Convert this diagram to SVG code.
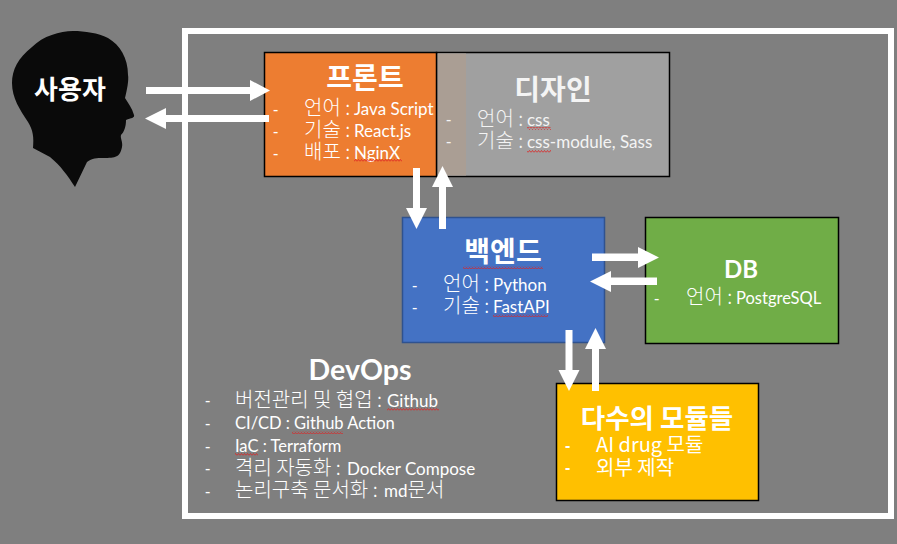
<svg xmlns="http://www.w3.org/2000/svg" width="897" height="544" viewBox="0 0 897 544">
<style>
text{font-family:"Lato","Noto Sans CJK KR","Noto Sans",sans-serif;fill:#fff;font-size:17px}
.ko{font-family:"Noto Sans CJK KR","Noto Sans",sans-serif;font-size:20px;font-weight:300}
.t{font-family:"Noto Sans CJK KR",sans-serif;font-weight:700;text-anchor:middle;font-size:28px}
.l{font-family:"Lato",sans-serif;font-weight:700;text-anchor:middle;font-size:28px}
.d{font-family:"Liberation Sans",sans-serif;font-size:16px}
.box{stroke:#000;stroke-width:1.5}
.arrow{fill:#fff}
.sq{fill:url(#wave)}
.soft text{fill:#f4f4f4}
</style>
<defs>
<pattern id="wave" width="3" height="3" patternUnits="userSpaceOnUse">
<path d="M0 2.500L1.500 .5L3 2.500" fill="none" stroke="#d22" stroke-width=".8"/>
</pattern>
</defs>
<rect width="897" height="544" fill="#7f7f7f"/>
<rect id="frame" x="185" y="31" width="706" height="485" fill="none" stroke="#fff" stroke-width="6"/>

<g id="user">
<path d="M73 31C60 31 43 36 32 47C18 58 12 70 12 83C12 98 20 110 28 122C33 130 34 137 33 148L50 157C60 165 68 176 75 187L87 162C92 158 97 158 103 158C116 158 120 157 122 147C123 142 120 138 121 135C124 132 126 127 126 120C131 118 135 118 134 115C132 108 128 103 125 98C127 90 129 80 128 75C128 58 120 45 108 38C98 33 85 31 73 31Z" fill="#0a0a0a"/>
<text class="t" x="70" y="99" style="font-size:26px">사용자</text>
</g>

<g id="design">
<rect class="box" x="436.500" y="52.500" width="233" height="124" fill="#a0a0a0"/>
<rect x="437.500" y="53.500" width="28.500" height="122" fill="#aa9e94"/>
<g class="soft">
<text class="t" x="553" y="100" style="font-weight:700">디자인</text>
<text class="d" x="446" y="125">-</text>
<text class="d" x="446" y="147">-</text>
<text y="126"><tspan class="ko" x="477">언어 :</tspan><tspan x="527">css</tspan></text>
<text y="148"><tspan class="ko" x="477">기술 :</tspan><tspan x="527">css-module, Sass</tspan></text>
</g>
<rect class="sq" x="527" y="127" width="24" height="3"/>
<rect class="sq" x="527" y="150" width="24" height="3"/>
</g>

<g id="front">
<rect class="box" x="264.500" y="52.500" width="172" height="124" fill="#ed7d31"/>
<text class="t" x="365" y="88">프론트</text>
<text class="d" x="273" y="115">-</text>
<text class="d" x="273" y="137">-</text>
<text class="d" x="273" y="159">-</text>
<text y="115"><tspan class="ko" x="304">언어 :</tspan><tspan x="354">Java Script</tspan></text>
<text y="137"><tspan class="ko" x="304">기술 :</tspan><tspan x="354">React.js</tspan></text>
<text y="159"><tspan class="ko" x="304">배포 :</tspan><tspan x="354">NginX</tspan></text>
<rect class="sq" x="354" y="159" width="48" height="3"/>
</g>

<g id="backend">
<rect x="402.500" y="217.500" width="202" height="125" fill="#4472c4" stroke="#2f528f" stroke-width="1.500"/>
<text class="t" x="503" y="262">백엔드</text>
<rect class="sq" x="463" y="266" width="80" height="3"/>
<text class="d" x="412" y="291">-</text>
<text class="d" x="412" y="313">-</text>
<text y="291"><tspan class="ko" x="443">언어 :</tspan><tspan x="493">Python</tspan></text>
<text y="313"><tspan class="ko" x="443">기술 :</tspan><tspan x="493">FastAPI</tspan></text>
<rect class="sq" x="493" y="314" width="55" height="3"/>
</g>

<g id="db">
<rect class="box" x="645.500" y="217.500" width="193" height="126" fill="#70ad47"/>
<text class="l" x="741" y="278" style="font-size:24px">DB</text>
<text class="d" x="654" y="304">-</text>
<text y="304"><tspan class="ko" x="686">언어 :</tspan><tspan x="736" style="font-size:16.500px">PostgreSQL</tspan></text>
</g>

<g id="modules">
<rect class="box" x="556.500" y="383.500" width="202" height="117" fill="#ffc000"/>
<text class="t" x="657" y="428" style="font-size:26.500px">다수의 모듈들</text>
<text class="d" x="565" y="451" style="font-weight:700">-</text>
<text class="d" x="565" y="473" style="font-weight:700">-</text>
<text y="452" class="ko" x="596" style="font-weight:400">AI drug 모듈</text>
<text y="475" class="ko" x="596" style="font-weight:400">외부 제작</text>
</g>

<g id="devops">
<text class="l" x="360" y="380" style="font-size:28.500px">DevOps</text>
<text class="d" x="205" y="406">-</text>
<text class="d" x="205" y="429">-</text>
<text class="d" x="205" y="452">-</text>
<text class="d" x="205" y="474">-</text>
<text class="d" x="205" y="497">-</text>
<text y="407"><tspan class="ko" x="235">버전관리 및 협업 :</tspan><tspan x="387">Github</tspan></text>
<text y="429" x="235" style="font-size:16.500px">CI/CD : Github Action</text>
<text y="452" x="235" style="font-size:16.500px">IaC : Terraform</text>
<text y="475"><tspan class="ko" x="235">격리 자동화 :</tspan><tspan x="347">Docker Compose</tspan></text>
<text y="497"><tspan class="ko" x="235">논리구축 문서화 :</tspan><tspan x="384">md</tspan><tspan class="ko">문서</tspan></text>
<rect class="sq" x="387" y="408" width="52" height="3"/>
<rect class="sq" x="292" y="431" width="51" height="3"/>
<rect class="sq" x="235" y="453" width="23" height="3"/>
</g>

<g id="connectors">
<path class="arrow" d="M146 87H250V80L270 90.500L250 101V94H146Z"/>
<path class="arrow" d="M269 115H166V108L145 118.500L166 129V122H269Z"/>
<path class="arrow" d="M413 168H420V208H427L416.500 229L406 208H413Z"/>
<path class="arrow" d="M439 229H446V187H453L442.500 166L432 187H439Z"/>
<path class="arrow" d="M592 253.500H638V247L659 257.500L638 268V261H592Z"/>
<path class="arrow" d="M657 277.500H611V271L590 281.500L611 292V285H657Z"/>
<path class="arrow" d="M565.500 330H572.500V370H579.500L569 391L558.500 370H565.500Z"/>
<path class="arrow" d="M592 391H599V349H606L595.500 328L585 349H592Z"/>
</g>
</svg>
